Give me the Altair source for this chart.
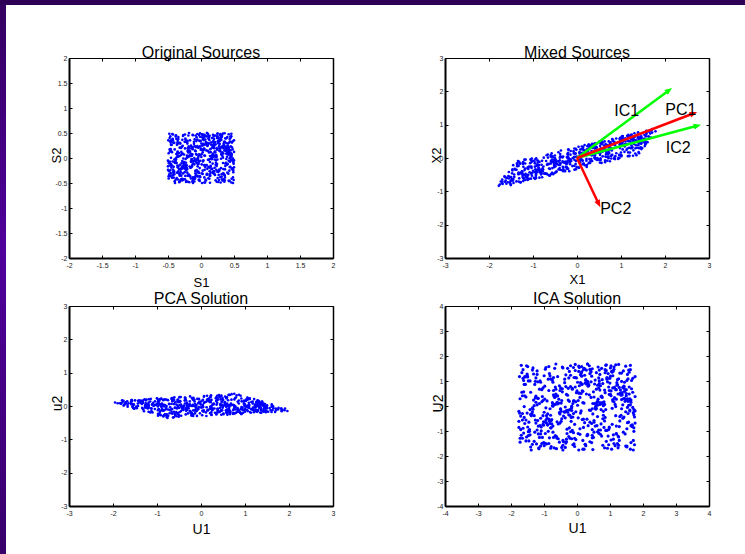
import math
import altair as alt
import pandas as pd

FONT = "Liberation Sans"

# ---- scatter sample (normalised source coordinates, hundredths) ----
U = [
-87, 42, 13, -56, 78, -4, 91, -33, 25, -71, 60, -18, 7, -95, 49, 84, -62, 31, -9, 66,
-45, 19, -78, 53, 2, -27, 95, -63, 38, -12, 71, -89, 16, 44, -51, 88, -36, 5, -70, 27,
59, -93, 34, -2, 81, -48, 12, -66, 97, -21, 46, -84, 73, -39, 8, 63, -15, -99, 29, 55,
-58, 90, -11, 37, -76, 22, -43, 68, -97, 3, 52, -30, 85, -64, 18, -7, 76, -52, 41, -24,
93, -69, 10, -41, 67, -86, 26, 79, -19, 48, -60, 35, -3, 99, -47, 14, -82, 57, -28, 70,
-14, 33, -91, 61, -38, 86, -5, 47, -73, 20, -55, 92, -26, 6, 74, -80, 39, -44, 11, -67,
50, -22, 77, -59, 15, -96, 43, -8, 65, -35, 89, -50, 24, -77, 58, -1, 32, -88, 82, -13,
-92, 6, 54, -31, 98, -46, 21, -72, 36, -57, 1, 80, -40, 64, -16, 45, -65, 9, -83, 72,
28, -53, 87, -20, 40, -79, 62, -37, -6, 94, -68, 17, -90, 51, -25, 83, -43, 30, 69, -98,
-34, 75, -61, 4, -85, 56, -10, 39, -74, 96, -29, 67, -54, 23, 90, -17, -49, 79, -3, 45,
12, -81, 48, -44, 71, -23, 99, -58, 30, -9, 62, -92, 19, -36, 85, -70, 3, 53, -15, -62,
78, -38, 7, 67, -95, 35, -52, 15, -29, 88, -77, 43, -6, 58, -87, 25, 96, -42, 10, -55,
-19, 60, -72, 92, -33, 2, 49, -84, 74, -47, 18, -11, 81, -65, 37, -96, 64, -24, 42, 86,
5, -97, 27, -63, 55, -13, 83, -40, 97, -28, 9, -75, 50, -2, 69, -57, 34, -85, 22, -48,
93, -32, 61, -18, -89, 41, -67, 14, 76, -54, 26, -7, 88, -43, 11, 57, -79, 38, -21, 73,
-60, 84, -1, 31, -93, 52, -37, 95, -14, 66, -82, 20, -50, 8, 79, -26, 47, -71, 63, -8,
36, -66, 91, -45, 17, -20, 72, -91, 44, -3, 54, -34, 98, -58, 29, -12, 85, -80, 4, 59,
-76, 21, -50, 86, -5, 64, -30, 40, -64, 13, -94, 70, -16, 33, -41, 94, -55, 18, -86, 47,
68, -10, 45, -83, 23, -61, 89, -24, 6, 80, -46, 51, -99, 39, 15, -68, 26, -33, 97, -40,
-27, 57, -87, 10, 73, -42, 3, -74, 60, -16, 35, -57, 82, -4, -79, 48, -23, 67, -11, 90,
42, -99, 24, -35, 84, -15, 56, -53, 19, 96, -71, 0, 62, -31, 75, -90, 14, -47, 34, -5,
-83, 65, -25, 99, -58, 28, -8, 71, -39, 52, -13, 87, -68, 40, -3, 11, -94, 76, -45, 22,
16, -44, 80, -70, 37, -92, 66, 1, -26, 43, -84, 29, -9, 91, -62, 55, -18, 86, -51, 9,
-64, 33, -6, 51, -28, 77, -81, 24, 94, -37, 10, -56, 72, -20, 46, -73, 38, -2, 63, -89,
87, -19, 69, -48, 8, -66, 32, -97, 58, -12, 79, -41, 21, -78, 99, -34, 4, 49, -59, 26,
-41, 95, -54, 18, -73, 44, -17, 63, -48, 7, 90, -25, 55, -91, 31, -6, 70, -36, 83, -67,
22, -75, 39, -11, 92, -56, 13, -32, 78, -88, 47, -4, 67, -45, 16, -98, 58, 25, -21, 80,
-52, 8, -93, 74, -39, 61, -76, 35, -14, 85, -60, 26, -35, 12, -70, 89, -29, 43, -82, 3,
71, -46, 27, -7, 54, -85, 97, -18, 41, -62, 2, 76, -90, 48, -30, 66, -11, 92, -42, 18,
-9, 50, -68, 81, -24, 35, -40, 91, -80, 29, -53, 17, 84, -27, 61, -49, 5, -76, 37, -93,
]
V = [
23, -67, 88, -12, 45, -91, 5, 70, -38, 59, -3, -80, 31, 96, -54, 17, -26, 62, -73, 40,
-95, 48, -20, 77, -61, 9, 34, -43, 85, -7, -69, 26, 53, -88, 14, -35, 99, -50, 67, -16,
82, -30, 11, -75, 57, 38, -97, 20, -6, 64, -47, 93, -22, 6, 71, -84, 43, -10, -58, 29,
-40, 15, 73, -53, -2, 87, -29, 50, -81, 32, 66, -13, -92, 41, -65, 8, 78, -37, 24, -99,
61, -85, 36, 2, -44, 95, -71, 19, 47, -24, 12, -57, 84, -9, -33, 55, -78, 90, -4, 30,
-18, 79, -60, 44, 22, -36, 68, -94, 3, 51, -83, 16, -27, 74, 39, -64, 10, -48, 86, -31,
97, -11, 28, -70, 63, -52, 7, 41, -89, 25, 80, -41, 58, -15, -76, 33, -5, 69, -62, 13,
-49, 56, -87, 18, -23, 72, -7, -58, 92, -34, 4, 47, -70, 21, 89, -19, -96, 37, 60, -45,
35, -2, 65, -93, 49, -17, 83, -66, 14, -42, 75, -28, 1, -54, 42, 94, -39, 8, -84, 70,
-72, 27, -46, 91, -14, 55, -33, 6, 76, -99, 38, -62, 87, -8, 19, -51, 64, -25, 46, -10,
9, -56, 79, -31, 98, -80, 24, -20, 53, 2, -74, 66, -43, 30, -90, 11, 82, -67, 16, 57,
-26, 89, -9, 40, -65, 13, -85, 61, -37, 85, -18, 22, -59, 95, -30, 71, -13, 3, -77, 48,
74, -40, 52, -82, 7, -25, 96, -46, 31, -71, 59, -5, 36, -94, 67, -21, 45, -88, 25, -1,
-63, 19, -98, 60, -48, 82, -11, 28, -56, 44, -29, 90, -79, 12, 51, -42, 7, 73, -35, 93,
42, -73, 14, -8, 70, -39, 58, -86, 17, -61, 88, -23, 4, 63, -47, 29, -92, 54, -12, 78,
-84, 31, 67, -44, 26, -95, 46, -1, -68, 97, -35, 50, -16, 81, -58, 15, 39, -30, 92, -54,
18, -62, 86, -19, 53, 0, -77, 35, -27, 68, -52, 11, -87, 44, 23, -72, 61, -6, 32, -97,
-11, 95, -41, 75, -85, 21, 49, -63, 8, -36, 79, -94, 27, -3, 57, -45, 18, 99, -69, 6,
56, -24, 3, -66, 84, -55, 30, 90, -14, 43, -4, 64, -33, 75, -89, 5, -52, 26, -18, 68,
-33, 71, -78, 10, -32, 62, -99, 16, 80, -12, 50, -82, 13, -40, 34, 86, -21, -61, 47, -7,
89, -47, 22, -96, 40, -7, 66, -30, 55, -77, 21, 37, -64, 9, -19, 52, -86, 77, -43, 14,
-57, 6, 92, -37, 15, -70, 43, -88, 24, 58, -48, -15, 83, -53, 98, -28, 34, -4, 65, -80,
30, -91, 48, 25, -60, 86, -20, 57, -93, 10, 69, -35, -8, 96, -62, 38, -74, 19, -26, 53,
-70, 41, -15, 68, -5, 33, -52, 81, -41, 6, -97, 72, 45, -25, 12, -79, 60, -11, 87, -38,
13, -83, 63, -28, 93, -44, 2, -72, 37, -19, 83, -58, 28, -99, 70, -34, 49, -6, 24, -65,
-44, 66, -35, 99, -20, 54, -61, 12, -84, 77, -9, 35, -46, 61, -2, 91, -67, 41, -90, 20,
77, -5, 39, -57, 11, -89, 73, -39, 5, 52, -32, -72, 18, -48, 85, -14, 26, -82, 56, -23,
-20, 52, -72, 32, -94, 17, 85, -22, 67, -50, 40, -4, -68, 89, -37, 46, -16, 63, -55, 94,
65, -38, 8, -87, 46, 76, -48, 29, -6, -90, 15, 59, -24, 33, -81, 1, 95, -43, 10, -63,
-2, 84, -53, 20, -77, 4, 38, -97, 60, -31, 91, -66, 26, -10, 72, -56, 22, -86, 44, -15,
]

# ---- shape of the cloud in each panel ----
# point = centre + u*A + v*B   (u, v in [-1, 1])
SRC_CENTER, SRC_A, SRC_B = (0.0, 0.0), (0.5, 0.0), (0.0, 0.5)
MIX_CENTER, MIX_A, MIX_B = (0.0, 0.0), (1.625, 0.51), (0.225, 0.41)
PCA_CENTER, PCA_A, PCA_B = (0.0, 0.0), (1.45, 0.11), (0.65, -0.26)
ICA_CENTER, ICA_A, ICA_B = (0.0, -0.04), (1.76, 0.0), (0.0, 1.72)

# ---- arrows in "Mixed Sources" ----
ARROW_NAME = ["IC1", "IC2", "PC1", "PC2"]
ARROW_TIP_X = [2.16, 2.82, 2.73, 0.53]
ARROW_TIP_Y = [2.10, 1.00, 1.38, -1.48]
ARROW_COLOR = ["#00ff00", "#00ff00", "#ff0000", "#ff0000"]
LABEL_X = [1.13, 2.30, 2.36, 0.88]
LABEL_Y = [1.40, 0.30, 1.44, -1.53]

# ---- axes ----
TICKS_2 = [-2, -1.5, -1, -0.5, 0, 0.5, 1, 1.5, 2]
TICKS_3 = [-3, -2, -1, 0, 1, 2, 3]
TICKS_4 = [-4, -3, -2, -1, 0, 1, 2, 3, 4]

W, H = 264, 200


def cloud(center, a, b):
    xs, ys = [], []
    for u, v in zip(U, V):
        uu, vv = u / 99.0, v / 99.0
        xs.append(center[0] + uu * a[0] + vv * b[0])
        ys.append(center[1] + uu * a[1] + vv * b[1])
    return pd.DataFrame({"x": xs, "y": ys})


LAB = dict(labelFontSize=7, labelColor="#222222", labelFont=FONT, labelFlush=False,
           labelExpr="datum.value + ''", labelOverlap=False, grid=False)
one = pd.DataFrame({"k": [0]})


def panel(df, xdom, ydom, xt, yt, title, title_y, xtitle, xty, ytitle, ytx,
          msize, tfs=13, before=None, after=None):
    xs = alt.Scale(domain=xdom, nice=False, zero=False)
    ys = alt.Scale(domain=ydom, nice=False, zero=False)
    main = alt.Chart(df).mark_circle(size=msize, color="#0000ff", opacity=1).encode(
        x=alt.X("x:Q", scale=xs, title=xtitle, axis=alt.Axis(
            orient="bottom", values=xt, ticks=False, domainWidth=2, domainColor="black",
            labelPadding=3, titleFont=FONT, titleFontSize=tfs, titleFontWeight="normal",
            titleColor="black", titleX=W / 2, titleY=xty, titleBaseline="alphabetic",
            titleAlign="center", zindex=1, **LAB)),
        y=alt.Y("y:Q", scale=ys, title=ytitle, axis=alt.Axis(
            orient="left", values=yt, ticks=False, domainWidth=2, domainColor="black",
            labelPadding=2, titleFont=FONT, titleFontSize=tfs, titleFontWeight="normal",
            titleColor="black", titleAngle=270, titleX=ytx, titleY=H / 2 - 3,
            titleBaseline="alphabetic", titleAlign="center", zindex=1, **LAB)),
    )
    frame = pd.DataFrame({"x": xdom, "y": ydom})
    inner = alt.Chart(frame).mark_point(opacity=0).encode(
        x=alt.X("x:Q", scale=xs, title=None, axis=alt.Axis(
            orient="top", offset=-H, values=xt, labels=False, domain=False,
            tickSize=3, tickColor="black", grid=False, zindex=1)),
        y=alt.Y("y:Q", scale=ys, title=None, axis=alt.Axis(
            orient="right", offset=-W, values=yt, labels=False, domain=False,
            tickSize=3, tickColor="black", grid=False, zindex=1)),
    )
    edges = alt.Chart(frame).mark_point(opacity=0).encode(
        x=alt.X("x:Q", scale=xs, title=None, axis=alt.Axis(
            orient="bottom", offset=-H, values=xt, labels=False, domainColor="black",
            domainWidth=1, tickSize=3, tickColor="black", grid=False, zindex=1)),
        y=alt.Y("y:Q", scale=ys, title=None, axis=alt.Axis(
            orient="left", offset=-W, values=yt, labels=False, domainColor="black",
            domainWidth=1.5, tickSize=3, tickColor="black", grid=False, zindex=1)),
    )
    head = alt.Chart(one).mark_text(text=title, font=FONT, fontSize=16, color="black",
                                    align="center", baseline="alphabetic").encode(
        x=alt.value(W / 2), y=alt.value(title_y))
    layers = (before or []) + [main] + (after or []) + [inner, edges, head]
    return alt.layer(*layers).resolve_axis(x="independent", y="independent").properties(
        width=W, height=H)


# background strips (drawn from the first panel, in pixels relative to its plot area)
left_strip = alt.Chart(one).mark_rect(
    color=alt.Gradient(gradient="linear", x1=0, x2=0, y1=0, y2=1,
                       stops=[alt.GradientStop(color="#34005f", offset=0),
                              alt.GradientStop(color="#50009c", offset=0.45),
                              alt.GradientStop(color="#38006a", offset=1)])
).encode(x=alt.value(-69), x2=alt.value(-63), y=alt.value(-58), y2=alt.value(496))
top_strip = alt.Chart(one).mark_rect(color="#2e0056").encode(
    x=alt.value(-69), x2=alt.value(676), y=alt.value(-58), y2=alt.value(-53))

# arrows
sx, sy = W / 6.0, H / 6.0
head_len = 7.0
rows = []
for n, tx, ty, c, lx, ly in zip(ARROW_NAME, ARROW_TIP_X, ARROW_TIP_Y, ARROW_COLOR, LABEL_X, LABEL_Y):
    px, py = tx * sx, ty * sy
    L = math.hypot(px, py)
    ang = math.degrees(math.atan2(px, py)) % 360
    ex = tx - (px / L) * head_len / sx
    ey = ty - (py / L) * head_len / sy
    rows.append(dict(name=n, x0=0.0, y0=0.0, tx=tx, ty=ty, ex=ex, ey=ey, color=c,
                     angle=ang, lx=lx, ly=ly))
arr = pd.DataFrame(rows)
HEAD = "M0,0L-0.42,1.05L0.42,1.05Z"
arrow_lines = alt.Chart(arr).mark_rule(strokeWidth=2.5).encode(
    x=alt.X("x0:Q", axis=None), y=alt.Y("y0:Q", axis=None),
    x2="ex:Q", y2="ey:Q", color=alt.Color("color:N", scale=None))
arrow_heads = alt.Chart(arr).mark_point(shape=HEAD, filled=True, size=200, opacity=1,
                                        strokeWidth=0).encode(
    x=alt.X("tx:Q", axis=None), y=alt.Y("ty:Q", axis=None),
    angle=alt.Angle("angle:Q", scale=None), color=alt.Color("color:N", scale=None))
arrow_text = alt.Chart(arr).mark_text(font=FONT, fontSize=16, color="black").encode(
    x=alt.X("lx:Q", axis=None), y=alt.Y("ly:Q", axis=None), text="name:N")

p1 = panel(cloud(SRC_CENTER, SRC_A, SRC_B), [-2, 2], [-2, 2], TICKS_2, TICKS_2,
           "Original Sources", 0, "S1", 28, "S2", -9, 7,
           before=[left_strip, top_strip])
p2 = panel(cloud(MIX_CENTER, MIX_A, MIX_B), [-3, 3], [-3, 3], TICKS_3, TICKS_3,
           "Mixed Sources", 0, "X1", 25, "X2", -5, 7,
           after=[arrow_lines, arrow_heads, arrow_text])
p3 = panel(cloud(PCA_CENTER, PCA_A, PCA_B), [-3, 3], [-3, 3], TICKS_3, TICKS_3,
           "PCA Solution", -2, "U1", 27, "u2", -8, 7, tfs=14)
p4 = panel(cloud(ICA_CENTER, ICA_A, ICA_B), [-4, 4], [-4, 4], TICKS_4, TICKS_4,
           "ICA Solution", -2, "U1", 26, "U2", -3, 10, tfs=14)

chart = alt.concat(p1, p2, p3, p4, columns=2, spacing={"row": 48, "column": 112},
                   bounds="flush").properties(padding=0, background="white").configure_view(
    strokeWidth=0)

chart.save("out.html", embed_options={"renderer": "svg", "actions": False})
